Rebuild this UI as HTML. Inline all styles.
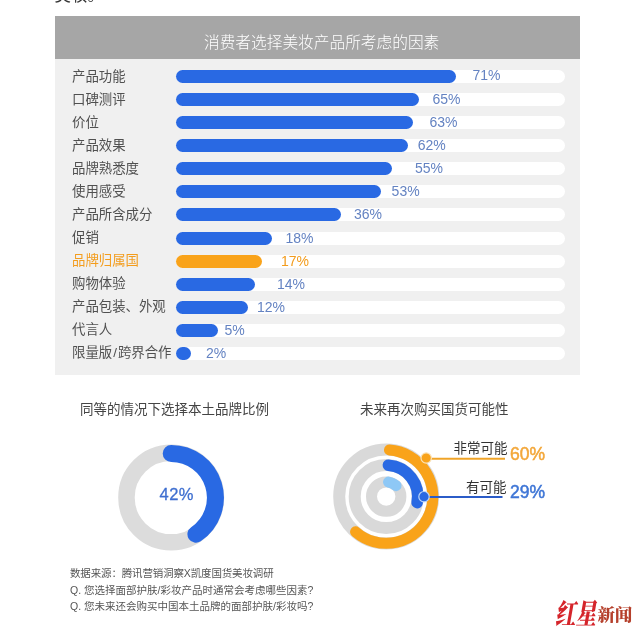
<!DOCTYPE html>
<html lang="zh-CN"><head><meta charset="utf-8"><title>消费者选择美妆产品所考虑的因素</title>
<style>
html,body{margin:0;padding:0;background:#fff}
body{width:640px;height:641px;position:relative;overflow:hidden;font-family:"Liberation Sans","Noto Sans CJK SC",sans-serif}
.abs{position:absolute;white-space:nowrap}
.panel{position:absolute;left:54.5px;top:16px;width:525.7px;height:359px;background:#f0f0f0}
.hdr{position:absolute;left:54.5px;top:16px;width:525.7px;height:43.3px;background:#a6a6a6}
.ttl{position:absolute;left:204px;top:30px;height:26px;line-height:26px;white-space:nowrap;color:#fff;font-size:15.7px;font-weight:300}
.trk{position:absolute;left:176px;width:389px;height:13px;border-radius:6.5px;background:#fff}
.bar{position:absolute;left:176px;height:13px;border-radius:6.5px}
.nm{position:absolute;left:72px;height:20px;line-height:20px;font-size:13.4px;white-space:nowrap;font-weight:400}
.pc{position:absolute;height:20px;line-height:20px;font-size:14px;white-space:nowrap}
.charts{position:absolute;left:0;top:0}
.h2{position:absolute;font-size:13.5px;color:#444;white-space:nowrap;height:20px;line-height:20px}
.ft{position:absolute;left:70px;font-size:10.5px;color:#555;white-space:nowrap;height:14px;line-height:14px}
.soft{position:absolute;left:0;top:0;width:640px;height:641px;background:#fff;filter:blur(0.45px)}
</style></head><body><div class="soft">
<div class="abs" style="left:54.5px;top:-14.2px;font-size:16.5px;line-height:18px;color:#333">美妆。</div>
<div class="panel"></div>
<div class="hdr"></div>
<div class="ttl">消费者选择美妆产品所考虑的因素</div>
<div class="trk" style="top:70.00px"></div>
<div class="bar" style="top:70.00px;width:279.50px;background:#2969e3"></div>
<div class="nm" style="top:66.50px;color:#505050">产品功能</div>
<div class="pc" style="top:65.40px;left:472.5px;color:#6483c2">71%</div>
<div class="trk" style="top:93.08px"></div>
<div class="bar" style="top:93.08px;width:243.40px;background:#2969e3"></div>
<div class="nm" style="top:89.58px;color:#505050">口碑测评</div>
<div class="pc" style="top:88.58px;left:432.5px;color:#6483c2">65%</div>
<div class="trk" style="top:116.16px"></div>
<div class="bar" style="top:116.16px;width:237.00px;background:#2969e3"></div>
<div class="nm" style="top:112.66px;color:#505050">价位</div>
<div class="pc" style="top:111.76px;left:429.4px;color:#6483c2">63%</div>
<div class="trk" style="top:139.24px"></div>
<div class="bar" style="top:139.24px;width:232.40px;background:#2969e3"></div>
<div class="nm" style="top:135.74px;color:#505050">产品效果</div>
<div class="pc" style="top:134.94px;left:417.8px;color:#6483c2">62%</div>
<div class="trk" style="top:162.32px"></div>
<div class="bar" style="top:162.32px;width:215.60px;background:#2969e3"></div>
<div class="nm" style="top:158.82px;color:#505050">品牌熟悉度</div>
<div class="pc" style="top:158.12px;left:415.0px;color:#6483c2">55%</div>
<div class="trk" style="top:185.40px"></div>
<div class="bar" style="top:185.40px;width:205.25px;background:#2969e3"></div>
<div class="nm" style="top:181.90px;color:#505050">使用感受</div>
<div class="pc" style="top:181.30px;left:391.6px;color:#6483c2">53%</div>
<div class="trk" style="top:208.48px"></div>
<div class="bar" style="top:208.48px;width:165.00px;background:#2969e3"></div>
<div class="nm" style="top:204.98px;color:#505050">产品所含成分</div>
<div class="pc" style="top:204.48px;left:354.0px;color:#6483c2">36%</div>
<div class="trk" style="top:231.56px"></div>
<div class="bar" style="top:231.56px;width:96.00px;background:#2969e3"></div>
<div class="nm" style="top:228.06px;color:#505050">促销</div>
<div class="pc" style="top:227.66px;left:285.5px;color:#6483c2">18%</div>
<div class="trk" style="top:254.64px"></div>
<div class="bar" style="top:254.64px;width:86.20px;background:#f9a31a"></div>
<div class="nm" style="top:251.14px;color:#f39c1c">品牌归属国</div>
<div class="pc" style="top:250.84px;left:281.0px;color:#f39c1c">17%</div>
<div class="trk" style="top:277.72px"></div>
<div class="bar" style="top:277.72px;width:78.70px;background:#2969e3"></div>
<div class="nm" style="top:274.22px;color:#505050">购物体验</div>
<div class="pc" style="top:274.02px;left:277.0px;color:#6483c2">14%</div>
<div class="trk" style="top:300.80px"></div>
<div class="bar" style="top:300.80px;width:71.75px;background:#2969e3"></div>
<div class="nm" style="top:297.30px;color:#505050">产品包装、外观</div>
<div class="pc" style="top:297.20px;left:257.0px;color:#6483c2">12%</div>
<div class="trk" style="top:323.88px"></div>
<div class="bar" style="top:323.88px;width:41.50px;background:#2969e3"></div>
<div class="nm" style="top:320.38px;color:#505050">代言人</div>
<div class="pc" style="top:320.38px;left:224.5px;color:#6483c2">5%</div>
<div class="trk" style="top:346.96px"></div>
<div class="bar" style="top:346.96px;width:14.50px;background:#2969e3"></div>
<div class="nm" style="top:343.46px;color:#505050">限量版<span style="margin:0 1px">/</span>跨界合作</div>
<div class="pc" style="top:343.46px;left:206.0px;color:#6483c2">2%</div>
<svg class="charts" width="640" height="641" viewBox="0 0 640 641">
<circle cx="171.2" cy="497.6" r="44.75" fill="none" stroke="#dcdcdc" stroke-width="16.5"/>
<path d="M171.20 453.40A44.2 44.2 0 0 1 195.92 534.24" fill="none" stroke="#2969e3" stroke-width="17" stroke-linecap="round"/>
<circle cx="386.2" cy="496.6" r="47" fill="none" stroke="#d9d9d9" stroke-width="12"/>
<circle cx="386.2" cy="496.6" r="31.5" fill="none" stroke="#d9d9d9" stroke-width="12"/>
<circle cx="386.2" cy="496.6" r="14.7" fill="none" stroke="#d9d9d9" stroke-width="11"/>
<path d="M389.46 450.01A46.7 46.7 0 1 1 355.56 531.84" fill="none" stroke="#f9a31a" stroke-width="11" stroke-linecap="round"/>
<path d="M388.40 465.18A31.5 31.5 0 0 1 417.12 502.61" fill="none" stroke="#2969e3" stroke-width="11.6" stroke-linecap="round"/>
<path d="M388.50 482.08A14.7 14.7 0 0 1 396.04 485.68" fill="none" stroke="#8ec8f6" stroke-width="11" stroke-linecap="round"/>
<line x1="426" y1="458.7" x2="505" y2="458.7" stroke="#f0a428" stroke-width="2"/>
<circle cx="426.2" cy="458" r="5.2" fill="#f9a31a" stroke="#fbe3b8" stroke-width="1.2"/>
<line x1="424" y1="497" x2="502.5" y2="497" stroke="#2b5cc8" stroke-width="2"/>
<circle cx="424" cy="496.7" r="5.2" fill="#2969e3" stroke="#bcd6f7" stroke-width="1.2"/>
</svg>
<div class="h2" style="left:80px;top:400px;font-size:13.5px">同等的情况下选择本土品牌比例</div>
<div class="h2" style="left:360px;top:400px">未来再次购买国货可能性</div>
<div class="abs" style="left:159.5px;top:484px;font-size:16.5px;line-height:20px;letter-spacing:0.5px;color:#3f6fd0;-webkit-text-stroke:0.3px #3f6fd0">42%</div>
<div class="abs" style="left:453.5px;top:439px;font-size:13.5px;line-height:20px;color:#333">非常可能</div>
<div class="abs" style="left:510px;top:443px;font-size:17.5px;line-height:22px;color:#f3a73a;-webkit-text-stroke:0.5px #f3a73a">60%</div>
<div class="abs" style="left:466px;top:478px;font-size:13.5px;line-height:20px;color:#333">有可能</div>
<div class="abs" style="left:510px;top:481px;font-size:17.5px;line-height:22px;color:#3f76d6;-webkit-text-stroke:0.5px #3f76d6">29%</div>
<div class="ft" style="top:565.9px;letter-spacing:-0.15px">数据来源：腾讯营销洞察X凯度国货美妆调研</div>
<div class="ft" style="top:582.8px">Q. 您选择面部护肤/彩妆产品时通常会考虑哪些因素?</div>
<div class="ft" style="top:599.1px">Q. 您未来还会购买中国本土品牌的面部护肤/彩妆吗?</div>
<div class="abs" style="left:553px;top:605px;font-family:'Liberation Serif','Noto Serif CJK SC',serif;font-weight:900;font-size:20.5px;line-height:30px;color:#d5252b;transform:skewX(-10deg) scaleY(1.38);transform-origin:left bottom">红星</div>
<div class="abs" style="left:597.5px;top:603px;font-family:'Liberation Serif','Noto Serif CJK SC',serif;font-weight:900;font-size:17.5px;line-height:24px;color:#b5402c">新闻</div>
</div></body></html>
